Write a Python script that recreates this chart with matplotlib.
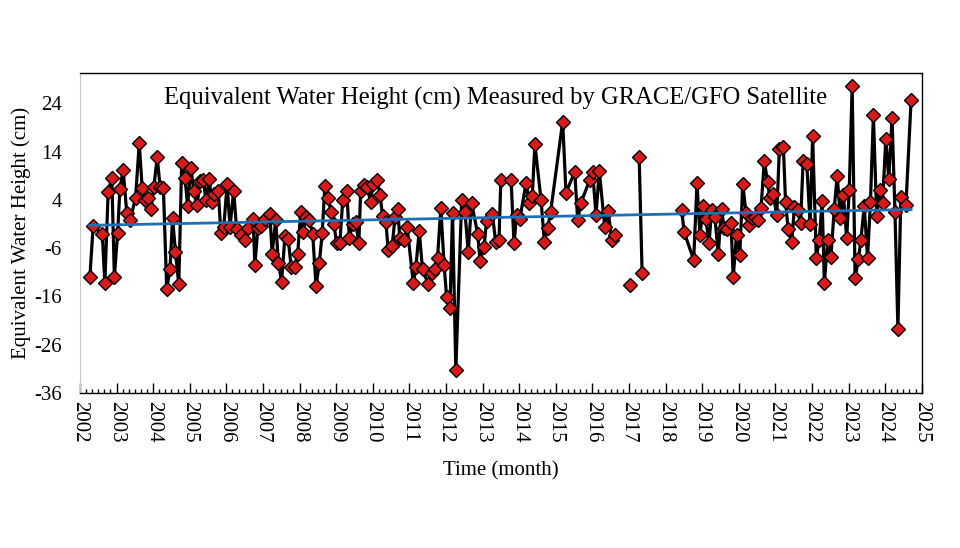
import numpy as np
import matplotlib
matplotlib.use("Agg")
import matplotlib.pyplot as plt
from matplotlib.ticker import AutoMinorLocator

plt.rcParams["font.family"] = ["Liberation Serif", "DejaVu Serif"]

nan = float("nan")

# decimal year of each monthly solution (nan rows break the line)
years = [
    2002.27, 2002.36, 2002.61, 2002.68, 2002.77, 2002.87, 2002.94, 2003.03, 2003.09, 2003.18,
    2003.28, 2003.37, 2003.52, 2003.62, 2003.70, 2003.78, 2003.85, 2003.94, 2004.02, 2004.11,
    2004.19, 2004.28, 2004.37, 2004.46, 2004.53, 2004.61, 2004.70, 2004.78, 2004.87, 2004.94,
    2005.03, 2005.11, 2005.20, 2005.28, 2005.37, 2005.44, 2005.53, 2005.60, 2005.67, 2005.78,
    2005.85, 2005.93, 2006.02, 2006.10, 2006.20, 2006.28, 2006.40, 2006.51, 2006.60, 2006.73,
    2006.78, 2006.86, 2006.95, 2007.05, 2007.19, 2007.25, 2007.35, 2007.42, 2007.51, 2007.60,
    2007.69, 2007.77, 2007.87, 2007.95, 2008.03, 2008.10, 2008.17, 2008.27, 2008.36, 2008.45,
    2008.54, 2008.62, 2008.69, 2008.78, 2008.86, 2008.94, 2009.01, 2009.10, 2009.18, 2009.29,
    2009.36, 2009.45, 2009.53, 2009.62, 2009.67, 2009.76, 2009.85, 2009.94, 2010.01, 2010.12,
    2010.20, 2010.27, 2010.36, 2010.42, 2010.53, 2010.61, 2010.68, 2010.74, 2010.85, 2010.94,
    2011.11, 2011.18, 2011.27, 2011.36, 2011.52, 2011.61, 2011.70, 2011.77, 2011.86, 2011.95,
    2012.02, 2012.11, 2012.18, 2012.27, 2012.43, 2012.52, 2012.61, 2012.70, 2012.87, 2012.93,
    2013.04, 2013.11, 2013.27, 2013.36, 2013.45, 2013.50, 2013.78, 2013.86, 2013.93, 2014.02,
    2014.19, 2014.28, 2014.36, 2014.43, 2014.60, 2014.69, 2014.78, 2014.86, 2015.19, 2015.28,
    2015.52, 2015.60, 2015.69, 2015.93, 2016.01, 2016.10, 2016.19, 2016.34, 2016.43, 2016.53,
    2016.62, 2016.85, 2017.03, 2017.15, 2017.28, 2017.36, 2017.90,
    2018.44, 2018.51, 2018.77, 2018.86, 2018.94, 2019.03, 2019.10, 2019.19, 2019.26, 2019.35,
    2019.44, 2019.53, 2019.60, 2019.69, 2019.79, 2019.85, 2019.94, 2020.03, 2020.11, 2020.20,
    2020.27, 2020.36, 2020.44, 2020.53, 2020.61, 2020.70, 2020.79, 2020.85, 2020.94, 2021.04,
    2021.11, 2021.22, 2021.28, 2021.35, 2021.45, 2021.52, 2021.61, 2021.69, 2021.76, 2021.86,
    2021.95, 2022.02, 2022.12, 2022.20, 2022.28, 2022.34, 2022.43, 2022.52, 2022.61, 2022.69,
    2022.78, 2022.86, 2022.95, 2023.02, 2023.10, 2023.18, 2023.27, 2023.34, 2023.43, 2023.52,
    2023.60, 2023.68, 2023.77, 2023.86, 2023.93, 2024.02, 2024.10, 2024.19, 2024.27, 2024.35,
    2024.43, 2024.57, 2024.71,
]

# equivalent water height (cm)
ewh = [
    -12.0, -1.5, -3.0, -13.3, 5.7, 8.6, -12.0, -2.8, 6.2, 10.3,
    1.2, -0.2, 4.5, 15.8, 6.4, 3.9, 4.5, 2.1, 6.7, 12.9,
    6.7, 6.4, -14.4, -10.4, 0.3, -6.8, -13.5, 11.7, 8.6, 2.8,
    10.7, 5.8, 2.9, 7.9, 8.2, 3.9, 8.4, 3.6, 5.3, 5.9,
    -2.8, -1.6, 7.3, -1.6, 5.9, -2.0, -3.3, -4.2, -1.9, 0.1,
    -9.4, -1.9, -1.4, 0.1, 1.0, -7.1, -0.2, -9.1, -12.9, -3.5,
    -4.0, -9.9, -9.8, -7.1, 1.5, -2.6, 0.5, -0.2, -3.1, -13.9,
    -9.1, -2.8, 6.8, 4.5, 1.5, -1.0, -4.9, -5.0, 3.9, 5.9,
    -3.8, -1.0, -0.6, -4.9, 5.9, 7.0, 6.7, 3.6, 7.4, 8.1,
    5.0, 0.6, -0.6, -6.3, -5.6, 0.5, 2.2, -3.8, -4.4, -1.7,
    -13.3, -9.8, -2.4, -10.4, -13.5, -11.1, -10.4, -8.0, 2.4, -9.5,
    -16.2, -18.3, 1.3, -31.2, 3.9, 1.5, -6.8, 3.4, -3.1, -8.6,
    -5.8, -0.4, 1.0, -4.7, -4.4, 8.2, 8.2, -5.0, 0.8, 0.1,
    7.5, 3.4, 4.8, 15.6, 3.9, -4.7, -1.9, 1.5, 20.2, 5.5,
    9.8, -0.2, 3.4, 8.2, 9.8, 0.8, 10.0, -1.6, 1.8, -4.2,
    -3.3, nan, -13.7, nan, 12.9, -11.1, nan,
    2.0, -2.7, -8.4, 7.5, -3.3, 2.7, 0.1, -4.9, 1.9, 0.5,
    -7.3, 2.2, -1.9, -2.1, -0.8, -12.0, -3.3, -7.5, 7.4, 1.2,
    -1.2, 0.3, 0.5, -0.2, 2.4, 12.1, 7.7, 4.3, 5.3, 0.8,
    14.5, 15.0, 3.6, -2.1, -4.8, 2.5, 2.0, -0.8, 12.1, 11.4,
    -0.9, 17.2, -8.0, -4.4, 3.7, -13.3, -4.4, -7.8, 2.1, 9.0,
    0.3, 5.1, -3.9, 6.0, 27.6, -12.2, -8.3, -4.2, 2.8, -8.0,
    3.6, 21.6, 0.7, 6.0, 3.3, 16.7, 8.3, 21.0, 1.4, -22.8,
    4.6, 3.0, 24.7,
]

year_ticks = list(range(2002, 2026))
ewh_ticks = [-36, -26, -16, -6, 4, 14, 24]

t = np.array(years)
v = np.array(ewh)
ok = ~np.isnan(v)
slope, icpt = np.polyfit(t[ok], v[ok], 1)
t_fit = np.array([t[ok][0], t[ok][-1]])

fig = plt.figure(figsize=(9.6, 5.48), dpi=100)
ax = fig.add_axes([0.0833, 0.2828, 0.8768, 0.584])

ax.plot(t, v, color="black", lw=2.3, zorder=2)
ax.plot(t, v, ls="none", marker="D", ms=6.8, mfc="#d91a1a", mec="black",
        mew=1.0, zorder=3)
ax.plot(t_fit, slope * t_fit + icpt, color="#1f6fb5", lw=2.0, zorder=4)

ax.set_xlim(2002, 2025)
ax.set_ylim(-36, 30.3)
ax.set_xticks(year_ticks)
ax.set_xticklabels([str(y) for y in year_ticks], rotation=-90, fontsize=15)
ax.xaxis.set_minor_locator(AutoMinorLocator(6))
ax.set_yticks(ewh_ticks)
ax.set_yticklabels([str(y) for y in ewh_ticks], fontsize=15)
ax.tick_params(axis="x", which="major", direction="in", length=7, width=1, pad=6)
ax.tick_params(axis="x", which="minor", direction="in", length=3, width=1)
ax.tick_params(axis="y", length=0, pad=13)

for s in ["top", "right", "bottom"]:
    ax.spines[s].set_color("black")
    ax.spines[s].set_linewidth(1.0)
ax.spines["left"].set_color("#c8c8c8")

ax.set_xlabel("Time (month)", fontsize=15, labelpad=13)
ax.set_ylabel("Equivalent Water Height (cm)", fontsize=15, labelpad=2)
ax.text(0.494, 0.922, "Equivalent Water Height (cm) Measured by GRACE/GFO Satellite",
        transform=ax.transAxes, ha="center", va="center", fontsize=17.7)

fig.savefig("out.png", dpi=100)
